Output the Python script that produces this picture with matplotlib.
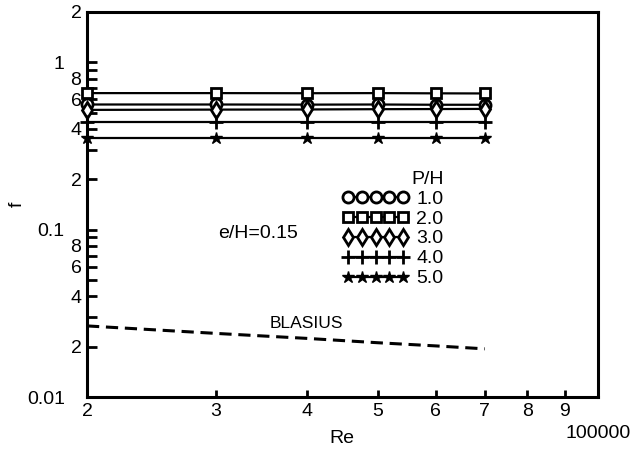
import matplotlib
matplotlib.use("Agg")
import matplotlib.pyplot as plt
from matplotlib.ticker import FixedLocator, FixedFormatter

plt.rcParams['font.family'] = ['Liberation Sans', 'DejaVu Sans']

# Reynolds numbers of the measured points
re = [20000, 30000, 40000, 50000, 60000, 70000]

# Friction factor for each rib pitch ratio P/H (e/H = 0.15)
f_ph1 = [0.560, 0.560, 0.559, 0.560, 0.558, 0.558]
f_ph2 = [0.655, 0.655, 0.654, 0.655, 0.653, 0.652]
f_ph3 = [0.520, 0.522, 0.523, 0.525, 0.526, 0.527]
f_ph4 = [0.440, 0.440, 0.440, 0.440, 0.440, 0.440]
f_ph5 = [0.353, 0.353, 0.353, 0.353, 0.353, 0.353]

# Smooth-duct Blasius reference
f_blasius = [0.0266, 0.0240, 0.0224, 0.0211, 0.0202, 0.0194]

series_labels = ['1.0', '2.0', '3.0', '4.0', '5.0']

x_ticks = [20000, 30000, 40000, 50000, 60000, 70000, 80000, 90000]
x_tick_labels = ['2', '3', '4', '5', '6', '7', '8', '9']
y_major = [0.01, 0.1, 1.0]
y_major_labels = ['0.01', '0.1', '1']
y_minor = [0.02, 0.03, 0.04, 0.05, 0.06, 0.07, 0.08, 0.09,
           0.2, 0.3, 0.4, 0.5, 0.6, 0.7, 0.8, 0.9, 2.0]
y_minor_labels = ['2', '', '4', '', '6', '', '8', '',
                  '2', '', '4', '', '6', '', '8', '', '2']

fig = plt.figure(figsize=(6.34, 4.55), dpi=100)
ax = fig.add_axes([87 / 634, 1 - 397 / 455, (598 - 87) / 634, (397 - 12) / 455])

styles = [
    dict(marker='o', ms=8, mfc='white', mew=2.0),
    dict(marker='s', ms=7.5, mfc='white', mew=2.0),
    dict(marker='d', ms=8.5, mfc='white', mew=2.0),
    dict(marker='+', ms=10, mew=2.0),
    dict(marker='*', ms=9, mfc='black', mew=1.0),
]
data = [f_ph1, f_ph2, f_ph3, f_ph4, f_ph5]
for vals, st, lab in zip(data, styles, series_labels):
    ax.plot(re, vals, color='black', mec='black', lw=1.6, clip_on=False,
            label=lab, zorder=3, **st)

ax.plot(re, f_blasius, color='black', lw=2.2, ls=(0, (4.0, 2.2)), zorder=3)

ax.set_xscale('log')
ax.set_yscale('log')
ax.set_xlim(20000, 100000)
ax.set_ylim(0.01, 2.0)

# x axis: digits as minor labels, 100000 as the single major label set lower
ax.xaxis.set_major_locator(FixedLocator([100000]))
ax.xaxis.set_major_formatter(FixedFormatter(['100000']))
ax.xaxis.set_minor_locator(FixedLocator(x_ticks))
ax.xaxis.set_minor_formatter(FixedFormatter(x_tick_labels))
ax.tick_params(axis='x', which='minor', direction='in', length=5, width=2,
               pad=4, labelsize=14)
ax.tick_params(axis='x', which='major', direction='in', length=0, width=2,
               pad=20, labelsize=14)

ax.yaxis.set_major_locator(FixedLocator(y_major))
ax.yaxis.set_major_formatter(FixedFormatter(y_major_labels))
ax.yaxis.set_minor_locator(FixedLocator(y_minor))
ax.yaxis.set_minor_formatter(FixedFormatter(y_minor_labels))
ax.tick_params(axis='y', which='major', direction='in', length=7, width=2,
               pad=16, labelsize=14)
ax.tick_params(axis='y', which='minor', direction='in', length=7, width=2,
               pad=4, labelsize=14)

for sp in ax.spines.values():
    sp.set_linewidth(2.2)

ax.set_xlabel('Re', fontsize=14)
ax.xaxis.set_label_coords(0.499, -0.109)
ax.xaxis.label.set_va('center')
ax.set_ylabel('f', fontsize=14)
ax.yaxis.set_label_coords(-0.137, 0.5)
ax.yaxis.label.set_va('center')

ax.text(30200, 0.0947, 'e/H=0.15', fontsize=14, ha='left', va='center')
ax.text(35600, 0.0276, 'BLASIUS', fontsize=12.5, ha='left', va='center')

leg = ax.legend(title='P/H', loc='upper left', bbox_to_anchor=(0.5, 0.588),
                frameon=False, numpoints=5, handlelength=3.4, handletextpad=0.4,
                labelspacing=0.12, borderpad=0, borderaxespad=0,
                fontsize=14, title_fontsize=14, alignment='right')

fig.savefig('out.png', dpi=100, facecolor='white')
